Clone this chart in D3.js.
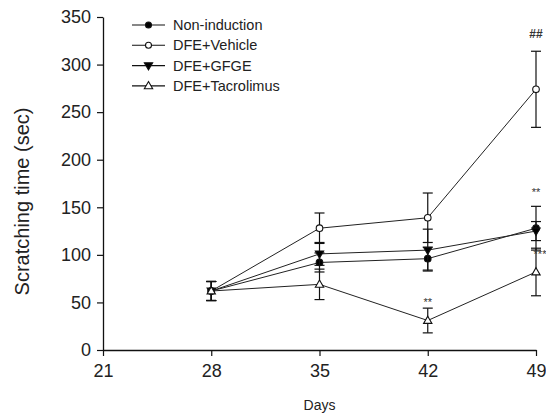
<!DOCTYPE html>
<html>
<head>
<meta charset="utf-8">
<script src="https://cdn.jsdelivr.net/npm/d3@7"></script>
<style>
  html, body { margin: 0; padding: 0; background: #fff; }
  svg { display: block; font-family: "Liberation Sans", Arial, sans-serif; }
</style>
</head>
<body>
<svg id="chart" width="546" height="417"></svg>
<script>
// Scratching time per group over the induction period (mean ± SE)
const days = [28, 35, 42, 49];
const dayTicks = [21, 28, 35, 42, 49];
const timeTicks = [0, 50, 100, 150, 200, 250, 300, 350];

const seriesNames = ["Non-induction", "DFE+Vehicle", "DFE+GFGE", "DFE+Tacrolimus"];
const nonInduction    = [62, 92, 96, 128];
const nonInductionErr = [10, 10, 12, 23];
const vehicle         = [62, 128, 139, 274];
const vehicleErr      = [10, 16, 26, 40];
const gfge            = [62, 101, 105, 125];
const gfgeErr         = [10, 12, 22, 10];
const tacrolimus      = [62, 69, 31, 82];
const tacrolimusErr   = [10, 16, 13, 25];

// significance marks: day, group index, text
const marks = [
  { day: 49, group: 1, text: "##" },
  { day: 49, group: 0, text: "**" },
  { day: 49, group: 3, text: "***" },
  { day: 42, group: 3, text: "**" }
];

const groups = [
  { name: seriesNames[0], mean: nonInduction, err: nonInductionErr, shape: "circle", fill: "#000" },
  { name: seriesNames[1], mean: vehicle,      err: vehicleErr,      shape: "circle", fill: "#fff" },
  { name: seriesNames[2], mean: gfge,         err: gfgeErr,         shape: "down",   fill: "#000" },
  { name: seriesNames[3], mean: tacrolimus,   err: tacrolimusErr,   shape: "up",     fill: "#fff" }
];

const svg = d3.select("#chart");
const ink = "#111";

const x = d3.scaleLinear().domain([21, 49]).range([103, 536]);
const y = d3.scaleLinear().domain([0, 350]).range([350, 17]);

// axes
const xAxis = svg.append("g").attr("transform", `translate(0,${y(0)})`)
  .call(d3.axisBottom(x).tickValues(dayTicks).tickSize(6).tickPadding(8).tickSizeOuter(0));
const yAxis = svg.append("g").attr("transform", `translate(${x(21)},0)`)
  .call(d3.axisLeft(y).tickValues(timeTicks).tickSize(6).tickPadding(6).tickSizeOuter(0));

[xAxis, yAxis].forEach(g => {
  g.select(".domain").attr("stroke", ink).attr("stroke-width", 1.3);
  g.selectAll(".tick line").attr("stroke", ink).attr("stroke-width", 1.2);
  g.selectAll(".tick text").attr("fill", "#222").style("font-size", "18px")
    .style("font-family", "'Liberation Sans', Arial, sans-serif");
});

svg.append("text")
  .attr("transform", `translate(29,${(y(0) + y(350)) / 2 + 18}) rotate(-90)`)
  .attr("text-anchor", "middle")
  .style("font-size", "20px").attr("fill", "#222")
  .text("Scratching time (sec)");

svg.append("text")
  .attr("x", (x(21) + x(49)) / 2).attr("y", 410)
  .attr("text-anchor", "middle")
  .style("font-size", "14px").attr("fill", "#222")
  .text("Days");

// marker shapes
const triUp = d3.symbol().type(d3.symbolTriangle).size(30);
function drawMarker(sel, shape, fill, cx, cy, r) {
  if (shape === "circle") {
    sel.append("circle").attr("cx", cx).attr("cy", cy).attr("r", r)
      .attr("fill", fill).attr("stroke", ink).attr("stroke-width", 1.1);
  } else {
    const rot = shape === "down" ? 180 : 0;
    const dy = shape === "down" ? -0.5 : 0.5;
    sel.append("path").attr("d", triUp())
      .attr("transform", `translate(${cx},${cy + dy}) rotate(${rot})`)
      .attr("fill", fill).attr("stroke", ink).attr("stroke-width", 1.1);
  }
}

const line = d3.line().x(d => x(d.day)).y(d => y(d.v));
const capW = 5;

groups.forEach(gr => {
  const pts = days.map((d, i) => ({ day: d, v: gr.mean[i], e: gr.err[i] }));
  const g = svg.append("g");
  // error bars
  pts.forEach(p => {
    const x0 = x(p.day), yt = y(p.v + p.e), yb = y(p.v - p.e);
    g.append("line").attr("x1", x0).attr("x2", x0).attr("y1", yt).attr("y2", yb)
      .attr("stroke", ink).attr("stroke-width", 1.2);
    [yt, yb].forEach(yy => g.append("line")
      .attr("x1", x0 - capW).attr("x2", x0 + capW).attr("y1", yy).attr("y2", yy)
      .attr("stroke", ink).attr("stroke-width", 1.2));
  });
  g.append("path").datum(pts).attr("d", line)
    .attr("fill", "none").attr("stroke", "#222").attr("stroke-width", 1);
  pts.forEach(p => drawMarker(g, gr.shape, gr.fill, x(p.day), y(p.v), 3.3));
});

// significance marks
const markGap = { "##": 13, "**": 16, "***": -4 };
marks.forEach(m => {
  const gr = groups[m.group];
  const i = days.indexOf(m.day);
  const top = y(gr.mean[i] + gr.err[i]);
  const isStar = m.text.startsWith("*");
  const gap = m.day === 42 ? 8 : markGap[m.text];
  svg.append("text")
    .attr("x", x(m.day) + (m.text === "***" ? 4 : 0))
    .attr("y", top - gap + (isStar ? 6 : 0))
    .attr("text-anchor", "middle")
    .style("font-size", isStar ? "11px" : "12px")
    .style("font-weight", isStar ? "normal" : "bold")
    .attr("fill", "#333")
    .text(m.text);
});

// legend
const legend = svg.append("g");
groups.forEach((gr, i) => {
  const ly = 25 + i * 20.3;
  legend.append("line").attr("x1", 132).attr("x2", 165).attr("y1", ly).attr("y2", ly)
    .attr("stroke", ink).attr("stroke-width", 1.1);
  drawMarker(legend, gr.shape, gr.fill, 148.5, ly, 3);
  legend.append("text").attr("x", 173).attr("y", ly + 5)
    .style("font-size", "14.5px").attr("fill", "#222")
    .text(gr.name);
});
</script>
</body>
</html>
